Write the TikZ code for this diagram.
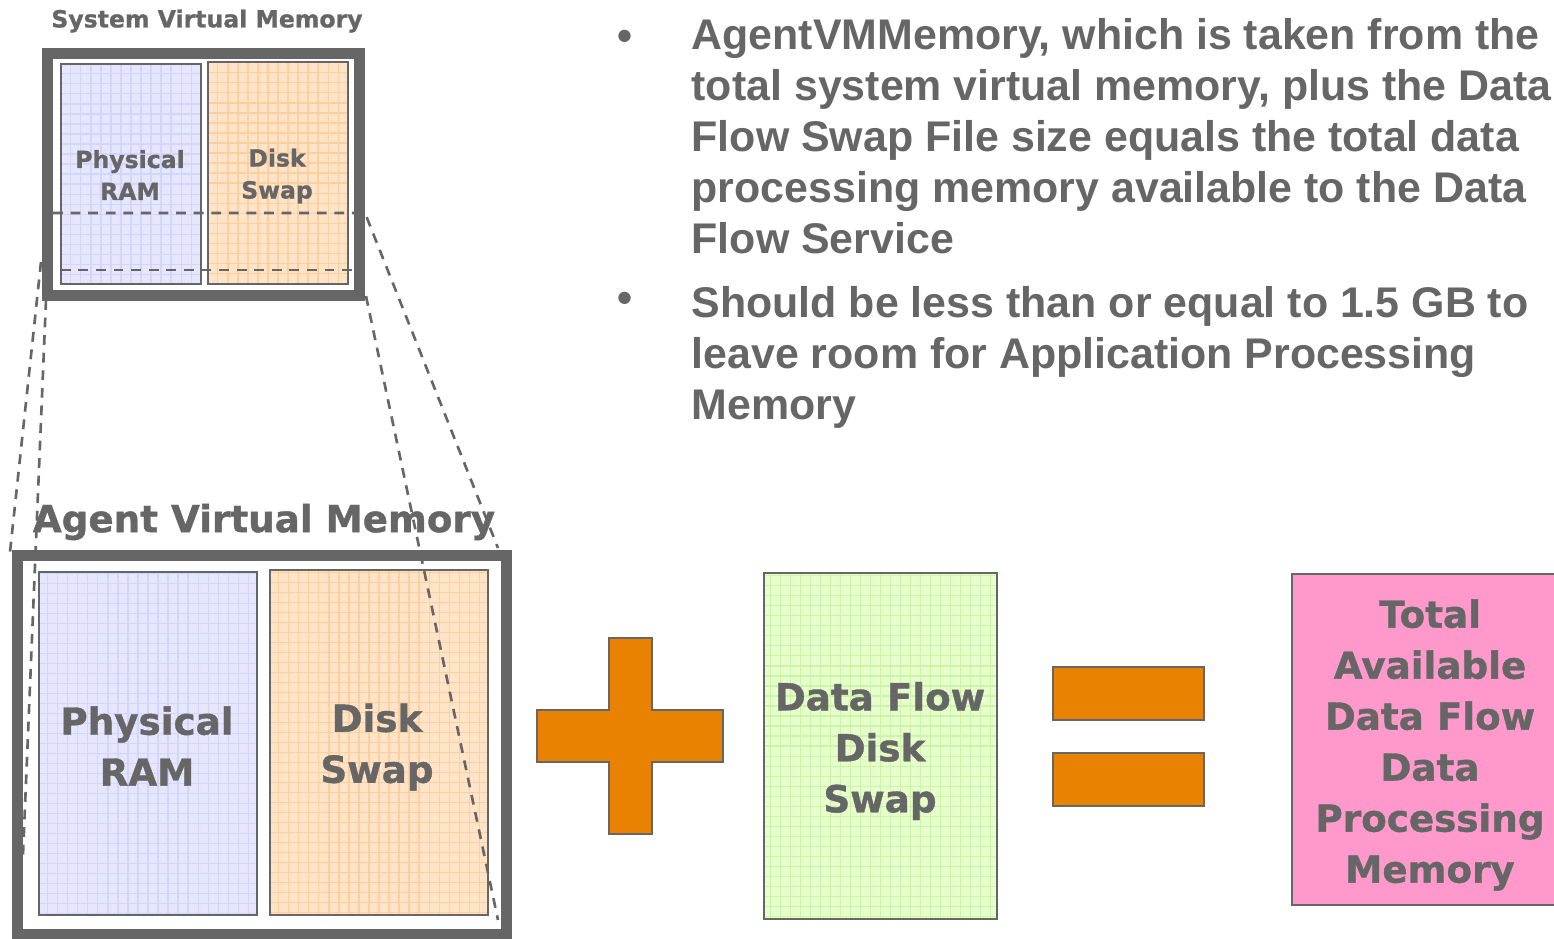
\documentclass[tikz,border=0pt]{standalone}
\usepackage{fontspec}
\newfontfamily\boxfont{DejaVu Sans}[BoldFeatures={FakeBold=1}]
\newfontfamily\notefont{Liberation Sans}
\definecolor{txtgray}{HTML}{666666}
\definecolor{ramfill}{HTML}{E6E6FF}
\definecolor{ramgrid}{HTML}{D4D4FF}
\definecolor{swapfill}{HTML}{FFE4C8}
\definecolor{swapgrid}{HTML}{FFCFA0}
\definecolor{flowfill}{HTML}{E6FFCC}
\definecolor{flowgrid}{HTML}{CCF5A8}
\definecolor{totalfill}{HTML}{FF99CC}
\definecolor{opfill}{HTML}{E88200}
\tikzset{
	memcell/.style={draw=txtgray,line width=0.6pt,inner sep=0pt},
	ramcell/.style={memcell,fill=ramfill,path picture={\draw[ramgrid,line width=0.3pt] (path picture bounding box.south west) grid[step=1mm] (path picture bounding box.north east);}},
	swapcell/.style={memcell,fill=swapfill,path picture={\draw[swapgrid,line width=0.3pt] (path picture bounding box.south west) grid[step=1mm] (path picture bounding box.north east);}},
	flowcell/.style={memcell,fill=flowfill,path picture={\draw[flowgrid,line width=0.3pt] (path picture bounding box.south west) grid[step=1mm] (path picture bounding box.north east);}},
	totalcell/.style={memcell,fill=totalfill},
	vmframe/.style={draw=txtgray,line width=3.1pt,inner sep=0pt},
	smalltext/.style={font=\boxfont\bfseries\fontsize{6.7}{9.1}\selectfont,text=txtgray,align=center,inner sep=0pt},
	bigtext/.style={font=\boxfont\bfseries\fontsize{10.6}{14.5}\selectfont,text=txtgray,align=center,inner sep=0pt},
	notetext/.style={font=\notefont\bfseries\fontsize{12.2}{14.5}\selectfont,text=txtgray,align=left,inner sep=0pt},
	zoomline/.style={draw=txtgray,line width=0.75pt,dash pattern=on 2.8pt off 2.2pt},
	opbar/.style={draw=txtgray,line width=0.6pt,fill=opfill}
}
\begin{document}
\begin{tikzpicture}[x=0.01cm,y=-0.01cm]
	\useasboundingbox (0,0) rectangle (1554,938);
	
	% system virtual memory
	\node[smalltext] (systitle) at (207,21) {System Virtual Memory};
	\node[vmframe,minimum width=3.12cm,minimum height=2.415cm] (sysvm) at (203.5,174.75) {};
	\node[ramcell,minimum width=1.40cm,minimum height=2.20cm] (sysram) at (131,174) {};
	\node[swapcell,minimum width=1.40cm,minimum height=2.22cm] (sysswap) at (278,173) {};
	\node[smalltext] (sysramtext) at (130,175) {Physical\\RAM};
	\node[smalltext] (sysswaptext) at (277,176) {Disk\\Swap};
	
	% agent virtual memory
	\node[bigtext] (agenttitle) at (264,522) {Agent Virtual Memory};
	\node[vmframe,minimum width=4.89cm,minimum height=3.78cm] (agentvm) at (262,745) {};
	\node[ramcell,minimum width=2.18cm,minimum height=3.43cm] (agentram) at (148,743.5) {};
	\node[swapcell,minimum width=2.18cm,minimum height=3.45cm] (agentswap) at (379,742.5) {};
	\node[bigtext] (agentramtext) at (147,746) {Physical\\RAM};
	\node[bigtext] (agentswaptext) at (377,747) {Disk\\Swap};
	
	% plus
	\draw[opbar] (609,638) -- (652,638) -- (652,710) -- (723,710) -- (723,762) -- (652,762)
		-- (652,834) -- (609,834) -- (609,762) -- (537,762) -- (537,710) -- (609,710) -- cycle;
	
	\node[flowcell,minimum width=2.33cm,minimum height=3.46cm] (flowswap) at (880.5,746) {};
	\node[bigtext] (flowtext) at (880,751) {Data Flow\\Disk\\Swap};
	
	% equals
	\draw[opbar] (1053,667) rectangle (1204,720);
	\draw[opbar] (1053,753) rectangle (1204,806);
	
	\node[totalcell,minimum width=2.76cm,minimum height=3.31cm] (total) at (1430,739.5) {};
	\node[bigtext] (totaltext) at (1430,745)
		{Total\\Available\\Data Flow\\Data\\Processing\\Memory};
	
	% zoom lines
	\coordinate (zt1) at (53,213);
	\coordinate (zt2) at (365,213);
	\coordinate (zb1) at (45,270);
	\coordinate (zb2) at (352,270);
	\draw[zoomline] (zt1) -- (zt2) -- (498,548);
	\draw[zoomline] (zb2) -- (zb1);
	\draw[zoomline] (41,262) -- (10,552);
	\draw[zoomline] (46,300) -- (23,855);
	\draw[zoomline] (366,296) -- (498,920);
	
	% notes
	\node[notetext] (dot1) at (625,40) {•};
	\node[notetext,anchor=north west] (note1) at (691,18) {AgentVMMemory, which is taken from the\\
		total system virtual memory, plus the Data\\
		Flow Swap File size equals the total data\\
		processing memory available to the Data\\
		Flow Service};
	\node[notetext] (dot2) at (625,302) {•};
	\node[notetext,anchor=north west] (note2) at (691,286) {Should be less than or equal to 1.5 GB to\\
		leave room for Application Processing\\
		Memory};
\end{tikzpicture}
\end{document}
